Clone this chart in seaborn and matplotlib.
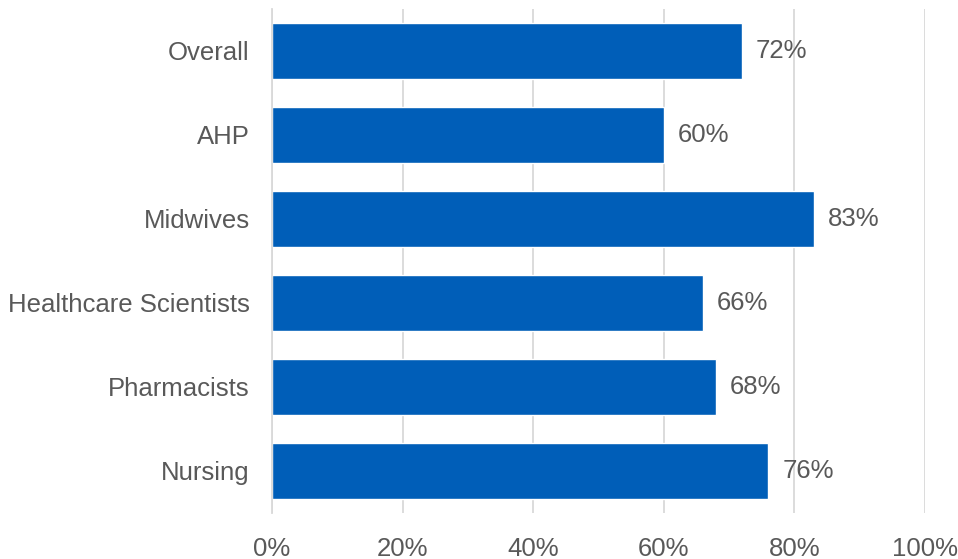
import matplotlib
matplotlib.use("Agg")
import matplotlib.pyplot as plt
import seaborn as sns
import pandas as pd

categories = ["Overall", "AHP", "Midwives", "Healthcare Scientists", "Pharmacists", "Nursing"]
values = [72, 60, 83, 66, 68, 76]
tick_values = [0, 20, 40, 60, 80, 100]
tick_labels = ["0%", "20%", "40%", "60%", "80%", "100%"]

sns.set_theme(style="white")
plt.rcParams["font.family"] = ["Liberation Sans", "DejaVu Sans"]

df = pd.DataFrame({"group": categories, "pct": values})

fig = plt.figure(figsize=(9.58, 5.59), dpi=100)
ax = fig.add_axes([0.284, 0.0823, 0.6816, 0.9017])

bar_color = "#005EB8"
text_color = "#595959"
grid_color = "#D9D9D9"
font_size = 18.5

sns.barplot(data=df, x="pct", y="group", order=categories, color=bar_color,
            saturation=1, width=0.66, ax=ax, zorder=3)

ax.set_xlim(0, 100)
ax.set_xticks(tick_values)
ax.set_xticklabels(tick_labels)
ax.set_xlabel("")
ax.set_ylabel("")
ax.xaxis.grid(True, color=grid_color, linewidth=1.3, zorder=0)
ax.yaxis.grid(False)
for side in ["top", "right", "bottom"]:
    ax.spines[side].set_visible(False)
ax.spines["left"].set_color(grid_color)
ax.spines["left"].set_linewidth(1.3)
ax.spines["left"].set_zorder(4)

ax.tick_params(axis="both", length=0, labelsize=font_size, colors=text_color)
ax.tick_params(axis="x", pad=17)
ax.tick_params(axis="y", pad=16)

for container in ax.containers:
    ax.bar_label(container, labels=[f"{v}%" for v in values], padding=10,
                 fontsize=font_size, color=text_color)

fig.savefig("out.png", dpi=100)
